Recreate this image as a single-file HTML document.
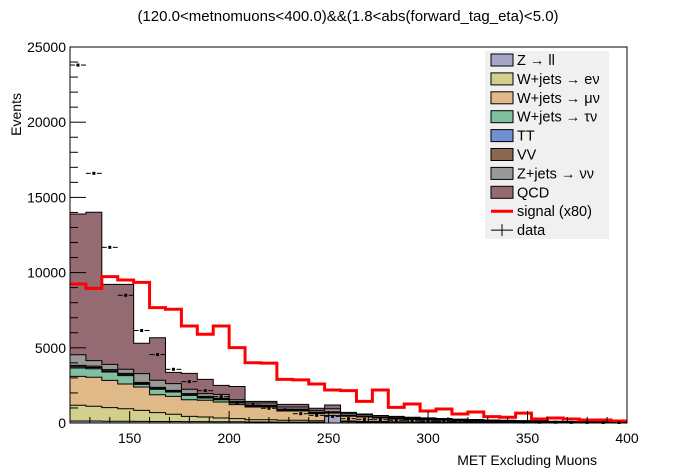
<!DOCTYPE html>
<html><head><meta charset="utf-8"><style>
body{margin:0;background:#fff;}
svg{display:block;font-family:"Liberation Sans",sans-serif;}
</style></head><body>
<svg id="c" width="696" height="472" viewBox="0 0 696 472">
<text x="348" y="21" font-size="15" text-anchor="middle">(120.0&lt;metnomuons&lt;400.0)&amp;&amp;(1.8&lt;abs(forward_tag_eta)&lt;5.0)</text>
<g id="stack"></g>
<g id="sig"></g>
<g id="dat"></g>
<g id="axes"></g>
<text x="597" y="465" font-size="14" text-anchor="end">MET Excluding Muons</text>
<text x="21" y="93" font-size="14" text-anchor="end" transform="rotate(-90 21 93)">Events</text>
<g id="legend"></g>
</svg>
<script>
const edges0 = 120, binW = 8;
const zll   = [130,130,120,120,110,100,100,90,90,80,80,70,70,60,60,60,510,80,70,60,50,50,40,40,40,30,30,30,30,20,20,20,20,20,20];
const wenu  = [1180,1110,1020,950,840,690,580,440,400,330,290,220,220,180,180,150,170,130,110,100,80,70,60,60,50,40,40,40,30,30,30,20,20,20,20];
const wmunu = [3100,3040,2830,2590,2390,1880,1770,1550,1510,1400,1220,1060,1060,800,800,620,660,450,400,330,270,230,200,180,150,120,110,100,90,70,60,50,50,40,30];
const wtaunu= [3660,3610,3390,3150,2570,2240,2060,1840,1660,1550,1330,1100,1100,850,850,660,700,480,420,350,290,250,210,190,160,130,120,110,100,80,70,60,55,45,35];
const tt    = [3740,3690,3460,3220,2630,2300,2110,1890,1710,1590,1370,1140,1140,880,880,690,720,500,440,370,300,260,220,200,170,140,130,115,105,85,75,65,60,50,40];
const vv    = [3830,3780,3550,3300,2700,2370,2170,1950,1770,1640,1420,1180,1180,920,920,720,750,520,460,390,320,280,240,210,180,150,140,125,110,90,80,70,65,55,45];
const znunu = [4540,4150,3900,3570,3280,2840,2620,2240,1950,1900,1550,1330,1330,1060,1060,840,950,640,560,480,400,340,300,260,230,200,180,160,140,120,100,90,80,70,60];
const qcd   = [13900,14010,9220,9220,5300,5670,3370,3300,2900,2500,2430,1440,1440,1240,1240,980,1200,710,600,500,440,380,340,300,260,230,200,180,160,140,120,100,90,80,70];
const signal= [9240,8950,9730,9510,9350,7670,7560,6450,5900,6450,5010,4010,3980,2900,2870,2590,2190,2150,1440,2190,1040,1260,800,930,600,730,420,380,660,270,330,270,200,200,130];
const data  = [23800,16600,11680,8490,6150,4550,3570,2750,2150,1750,1360,1200,980,880,620,510,440,290,240,220,180,150,120,110,100,90,80,70,60,50,50,40,40,30,30];
const xTicks = [150,200,250,300,350,400];
const yTicks = [0,5000,10000,15000,20000,25000];
const layerNames = ['z-ll','w-enu','w-munu','w-taunu','tt','vv','z-nunu','qcd'];
const layerColors = ['#a8a6c8','#d2d08c','#dfb988','#80c0a0','#7090d0','#8b6650','#999999','#956b73'];
const legendLabels = ['Z \u2192 ll','W+jets \u2192 e\u03bd','W+jets \u2192 \u03bc\u03bd','W+jets \u2192 \u03c4\u03bd','TT','VV','Z+jets \u2192 \u03bd\u03bd','QCD'];

const L=70,R=627,T=47,B=423;
const X=v=>L+(v-120)*(R-L)/280;
const Y=v=>B-Math.max(0,Math.min(v,25000))*(B-T)/25000;
const NS='http://www.w3.org/2000/svg';
function mk(tag,parent){const e=document.createElementNS(NS,tag);parent.appendChild(e);return e;}
function stepPath(arr){let d='M'+X(120)+','+Y(0);arr.forEach((v,i)=>{d+=' L'+X(120+i*binW)+','+Y(v)+' L'+X(120+(i+1)*binW)+','+Y(v);});d+=' L'+X(400)+','+Y(0)+' Z';return d;}
function lineStep(arr){let d='';arr.forEach((v,i)=>{d+=(i?' L':'M')+X(120+i*binW)+','+Y(v)+' L'+X(120+(i+1)*binW)+','+Y(v);});return d;}

const layers=[zll,wenu,wmunu,wtaunu,tt,vv,znunu,qcd];
const stack=document.getElementById('stack');
for(let k=layers.length-1;k>=0;k--){
  const p=mk('path',stack);
  p.setAttribute('d',stepPath(layers[k]));
  p.setAttribute('fill',layerColors[k]);p.setAttribute('stroke','#000');p.setAttribute('stroke-width','1');
  
  
}
const sg=mk('path',document.getElementById('sig'));
sg.setAttribute('d',lineStep(signal));sg.setAttribute('fill','none');sg.setAttribute('stroke','#ff0000');sg.setAttribute('stroke-width','3');



const dg=document.getElementById('dat');
data.forEach((v,i)=>{
  const x0=X(120+i*binW),x1=X(120+(i+1)*binW),xc=(x0+x1)/2,y=Y(v);
  const g=mk('g',dg);
  
  
  const l1=mk('line',g);l1.setAttribute('x1',x0);l1.setAttribute('x2',xc-3);l1.setAttribute('y1',y);l1.setAttribute('y2',y);l1.setAttribute('stroke','#000');
  const l2=mk('line',g);l2.setAttribute('x1',xc+3);l2.setAttribute('x2',x1);l2.setAttribute('y1',y);l2.setAttribute('y2',y);l2.setAttribute('stroke','#000');
  const r=mk('rect',g);r.setAttribute('x',xc-1.5);r.setAttribute('y',y-1.5);r.setAttribute('width',3);r.setAttribute('height',3);r.setAttribute('fill','#000');
});

const ax=document.getElementById('axes');
const fr=mk('rect',ax);fr.setAttribute('x',L);fr.setAttribute('y',T);fr.setAttribute('width',R-L);fr.setAttribute('height',B-T);fr.setAttribute('fill','none');fr.setAttribute('stroke','#000');


for(let v=0;v<=25000;v+=1000){const y=Y(v);const t=mk('line',ax);t.setAttribute('x1',L);t.setAttribute('x2',L+(v%5000?8:16));t.setAttribute('y1',y);t.setAttribute('y2',y);t.setAttribute('stroke','#000');}
for(let v=120;v<=400;v+=10){const x=X(v);const t=mk('line',ax);t.setAttribute('x1',x);t.setAttribute('x2',x);t.setAttribute('y1',B);t.setAttribute('y2',B-(v%50?6:12));t.setAttribute('stroke','#000');}
yTicks.forEach(v=>{const t=mk('text',ax);t.setAttribute('x',L-4);t.setAttribute('y',Y(v)+5);t.setAttribute('font-size','14');t.setAttribute('text-anchor','end');t.textContent=v;
  
  });
xTicks.forEach(v=>{const t=mk('text',ax);t.setAttribute('x',X(v));t.setAttribute('y',443);t.setAttribute('font-size','14');t.setAttribute('text-anchor','middle');t.textContent=v;
  
  });

const lg=document.getElementById('legend');


const bg=mk('rect',lg);bg.setAttribute('x',485);bg.setAttribute('y',51);bg.setAttribute('width',124);bg.setAttribute('height',188);bg.setAttribute('fill','#f0f0f0');
const rowY=i=>60+i*18.9;
legendLabels.forEach((lab,i)=>{
  const g=mk('g',lg);
  
  
  const r=mk('rect',g);r.setAttribute('x',491);r.setAttribute('y',rowY(i)-6);r.setAttribute('width',22);r.setAttribute('height',12);r.setAttribute('fill',layerColors[i]);r.setAttribute('stroke','#000');
  const t=mk('text',g);t.setAttribute('x',517);t.setAttribute('y',rowY(i)+5);t.setAttribute('font-size','14.5');t.textContent=lab;
});
{const g=mk('g',lg);
 
 
 const l=mk('line',g);l.setAttribute('x1',491);l.setAttribute('x2',513);l.setAttribute('y1',rowY(8));l.setAttribute('y2',rowY(8));l.setAttribute('stroke','#f00');l.setAttribute('stroke-width','3');
 const t=mk('text',g);t.setAttribute('x',517);t.setAttribute('y',rowY(8)+5);t.setAttribute('font-size','14.5');t.textContent='signal (x80)';}
{const g=mk('g',lg);
 
 
 const l=mk('line',g);l.setAttribute('x1',491);l.setAttribute('x2',513);l.setAttribute('y1',rowY(9));l.setAttribute('y2',rowY(9));l.setAttribute('stroke','#000');
 const l2=mk('line',g);l2.setAttribute('x1',502);l2.setAttribute('x2',502);l2.setAttribute('y1',rowY(9)-6);l2.setAttribute('y2',rowY(9)+6);l2.setAttribute('stroke','#000');
 const t=mk('text',g);t.setAttribute('x',517);t.setAttribute('y',rowY(9)+5);t.setAttribute('font-size','14.5');t.textContent='data';}
</script>
</body></html>
